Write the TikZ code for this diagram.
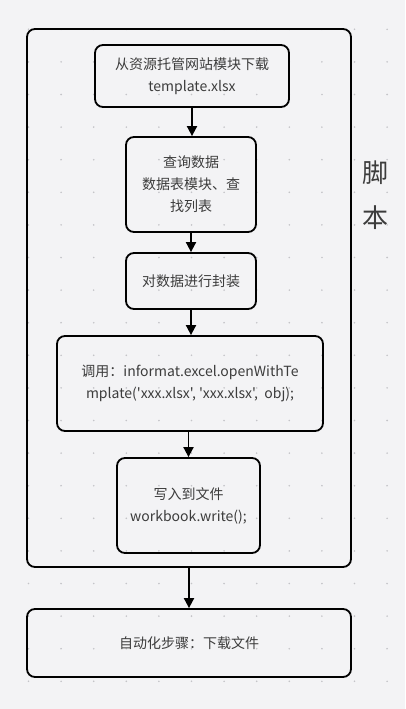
\documentclass[tikz,border=0pt]{standalone}
\usepackage{fontspec}
\setmainfont{Noto Sans CJK SC}[Ligatures=TeXOff]
\usetikzlibrary{arrows.meta}
\definecolor{bgc}{HTML}{F3F3F5}
\definecolor{dotc}{HTML}{C4C4C8}
\definecolor{txtc}{HTML}{3C3C3C}
\tikzset{
  box/.style={draw=black, line width=1.8pt, rounded corners=8pt, align=center,
    text=txtc, font=\fontsize{14}{22}\selectfont, inner sep=0pt},
  arr/.style={draw=black, line width=1.8pt, -{Triangle[width=10pt,length=10pt]}},
}
\begin{document}
\begin{tikzpicture}[x=1pt,y=-1pt]
\fill[bgc] (0,0) rectangle (405,709);
\useasboundingbox (0,0) rectangle (405,709);
\foreach \i in {0,...,11} {
  \foreach \j in {0,...,20} {
    \fill[dotc] ({28.5+32.6*\i},{29.3+32.6*\j}) circle (0.9);
  }
}
\node[box, minimum width=324pt, minimum height=538pt] (outer) at (189,298) {};
\node[box] (b1) at (192,76) [minimum width=194pt, minimum height=62pt] {从资源托管网站模块下载\\template.xlsx};
\node[box] (b2) at (191,184.5) [minimum width=130pt, minimum height=95pt] {查询数据\\数据表模块、查\\找列表};
\node[box] (b3) at (191,281) [minimum width=130pt, minimum height=56pt] {对数据进行封装};
\node[box] (b4) at (190,383.5) [minimum width=266pt, minimum height=95pt] {调用：informat.excel.openWithTe\\mplate('xxx.xlsx', 'xxx.xlsx',\ \ obj);};
\node[box] (b5) at (188.5,505.5) [minimum width=143pt, minimum height=95pt] {写入到文件\\workbook.write();};
\node[box] (b6) at (189,643) [minimum width=324pt, minimum height=68pt] {自动化步骤：下载文件};
\node[text=txtc, font=\fontsize{26}{45}\selectfont, align=center, inner sep=0pt] (lbl) at (375,195) {脚\\本};
\draw[arr] (b1.south) -- (b1.south |- b2.north);
\draw[arr] (b2.south) -- (b2.south |- b3.north);
\draw[arr] (b3.south) -- (b3.south |- b4.north);
\draw[arr] (b5.north |- b4.south) -- (b5.north);
\draw[arr] (outer.south) -- (outer.south |- b6.north);
\end{tikzpicture}
\end{document}
